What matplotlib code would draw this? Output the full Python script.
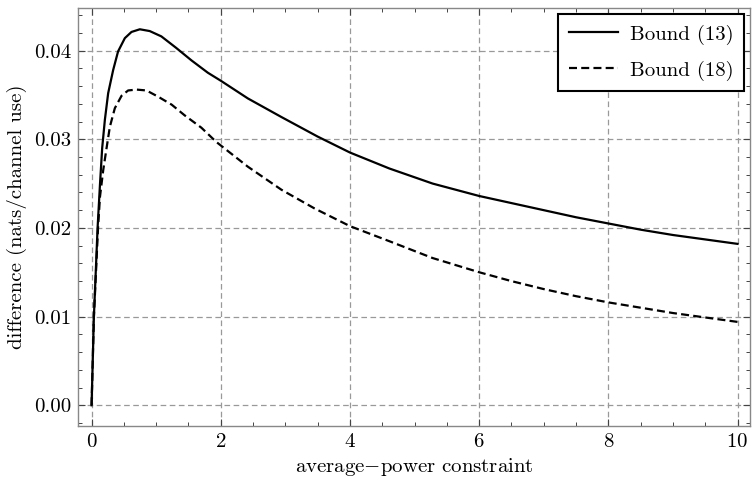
import matplotlib
matplotlib.use("Agg")
import matplotlib.pyplot as plt
from matplotlib.ticker import MultipleLocator, FormatStrFormatter

plt.rcParams['font.family'] = ['cmr10', 'DejaVu Serif']
plt.rcParams['mathtext.fontset'] = 'cm'
plt.rcParams['axes.unicode_minus'] = False
plt.rcParams['axes.formatter.use_mathtext'] = True

# Bound (13) - solid
x13 = [0.0, 0.036, 0.093, 0.13, 0.164, 0.206, 0.257, 0.334, 0.41, 0.515, 0.618, 0.747,
       0.90, 1.08, 1.31, 1.545, 1.80, 2.0, 2.42, 2.94, 3.5, 4.0, 4.61, 5.28,
       6.0, 6.5, 7.0, 7.5, 8.0, 8.5, 9.0, 9.5, 10.0]
y13 = [0.0, 0.010, 0.020, 0.0249, 0.0290, 0.0322, 0.0352, 0.0378, 0.0399, 0.0414, 0.0421, 0.0424,
       0.0422, 0.0416, 0.0403, 0.0389, 0.0375, 0.0366, 0.0346, 0.0325, 0.0303, 0.0285, 0.0267, 0.0250,
       0.0236, 0.0228, 0.0220, 0.0212, 0.0205, 0.0198, 0.0192, 0.0187, 0.0182]

# Bound (18) - dashed
x18 = [0.0, 0.036, 0.10, 0.13, 0.18, 0.232, 0.283, 0.36, 0.464, 0.566, 0.695,
       0.85, 1.03, 1.24, 1.44, 1.70, 1.93, 2.42, 2.94, 3.45, 4.0, 4.61, 5.28,
       6.0, 6.5, 7.0, 7.5, 8.0, 8.5, 9.0, 9.5, 10.0]
y18 = [0.0, 0.010, 0.020, 0.0235, 0.0265, 0.0290, 0.0314, 0.0335, 0.0349, 0.0355, 0.0356,
       0.0355, 0.0348, 0.0339, 0.0327, 0.0313, 0.0297, 0.0269, 0.0243, 0.0222, 0.0202, 0.0185, 0.0166,
       0.0150, 0.0140, 0.0131, 0.0123, 0.0116, 0.0110, 0.0104, 0.0099, 0.0094]

labels = ["Bound (13)", "Bound (18)"]
xlabel = r"average$-$power constraint"
ylabel = "difference (nats/channel use)"

fig = plt.figure(figsize=(7.53, 4.91), dpi=100)
ax = fig.add_axes([0.1036, 0.1324, 0.8930, 0.8513])

ax.plot(x13, y13, color='black', lw=1.6, label=labels[0])
ax.plot(x18, y18, color='black', lw=1.6, dashes=(3.6, 1.9), label=labels[1])

ax.set_xlim(-0.21, 10.2)
ax.set_ylim(-0.00234, 0.0448)
ax.xaxis.set_major_locator(MultipleLocator(2))
ax.xaxis.set_minor_locator(MultipleLocator(0.5))
ax.yaxis.set_major_locator(MultipleLocator(0.01))
ax.yaxis.set_minor_locator(MultipleLocator(0.002))
ax.yaxis.set_major_formatter(FormatStrFormatter('%.2f'))

ax.grid(True, which='major', color='#999999', ls=(0, (4.5, 2.8)), lw=0.9)
for s in ax.spines.values():
    s.set_color('#888888')
    s.set_linewidth(1.0)
ax.tick_params(which='both', direction='in', top=True, right=True, color='#444444', labelsize=15)
ax.tick_params(which='major', length=5, width=0.8, pad=5)
ax.tick_params(which='minor', length=3, width=0.7)

ax.set_xlabel(xlabel, fontsize=15, labelpad=4)
ax.set_ylabel(ylabel, fontsize=15, labelpad=5)

leg = ax.legend(loc='upper right', fontsize=15, frameon=True, fancybox=False,
                edgecolor='black', framealpha=1, borderpad=0.5, handlelength=2.35,
                handletextpad=0.6, labelspacing=0.75, borderaxespad=0.3)
leg.get_frame().set_linewidth(1.5)

fig.savefig("out.png", dpi=100)
